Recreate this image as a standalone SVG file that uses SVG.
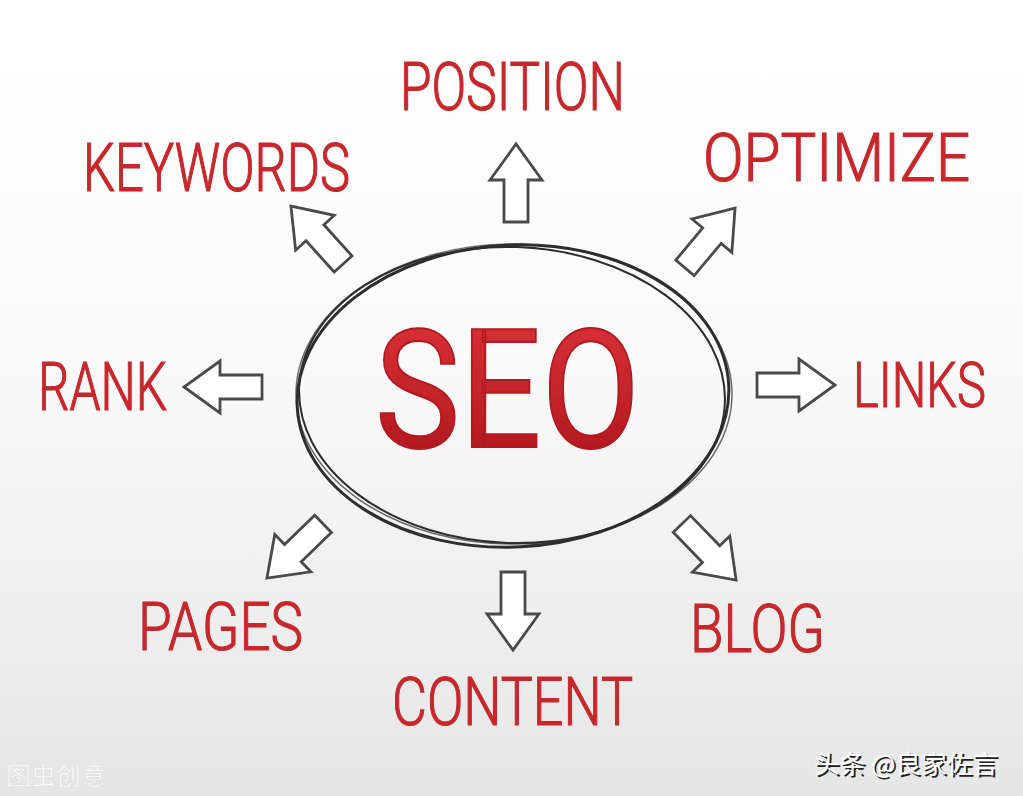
<svg xmlns="http://www.w3.org/2000/svg" width="1023" height="796" viewBox="0 0 1023 796">
<defs>
<linearGradient id="bg" x1="0" y1="0" x2="0" y2="1">
<stop offset="0" stop-color="#ffffff"/>
<stop offset="0.45" stop-color="#fafafa"/>
<stop offset="1" stop-color="#e6e6e6"/>
</linearGradient>
<linearGradient id="seo" x1="0" y1="0" x2="0" y2="1">
<stop offset="0" stop-color="#e0343a"/>
<stop offset="1" stop-color="#a8141a"/>
</linearGradient>
<path id="arr" d="M-39,-12 L3,-12 L3,-26 L39,0 L3,26 L3,12 L-39,12 Z"/>
</defs>
<style>
.lbl{font-family:Roboto,"Liberation Sans","DejaVu Sans",sans-serif;font-weight:300;font-size:67px;fill:#c7282c;stroke:#c7282c;stroke-width:1.2;}
.arrow{fill:#ffffff;stroke:#4a4a4a;stroke-width:2.8;stroke-linejoin:miter;}
.ring{fill:none;stroke:#2e2e2e;}
.wm{font-family:"Noto Sans CJK SC",sans-serif;}
</style>
<rect width="1023" height="796" fill="url(#bg)"/>
<g id="connectors">
<use href="#arr" class="arrow" transform="translate(516,183) rotate(-90)"/>
<use href="#arr" class="arrow" transform="translate(317,235) rotate(-132)"/>
<use href="#arr" class="arrow" transform="translate(710,238) rotate(-50)"/>
<use href="#arr" class="arrow" transform="translate(223,387) rotate(180)"/>
<use href="#arr" class="arrow" transform="translate(796,385)"/>
<use href="#arr" class="arrow" transform="translate(295,551) rotate(136)"/>
<use href="#arr" class="arrow" transform="translate(513,611) rotate(90)"/>
<use href="#arr" class="arrow" transform="translate(709,552) rotate(46)"/>
</g>
<g id="seo-node">
<ellipse class="ring" cx="513" cy="396" rx="216" ry="151" stroke-width="3" transform="rotate(-3 513 396)"/>
<ellipse class="ring" cx="512" cy="395" rx="213" ry="148" stroke-width="2" transform="rotate(2 512 395)"/>
<ellipse class="ring" cx="514" cy="394" rx="218" ry="150" stroke-width="1.5" opacity="0.7"/>
<text x="375" y="447" textLength="265" lengthAdjust="spacingAndGlyphs" style="font-family:Roboto,'Liberation Sans','DejaVu Sans',sans-serif;font-size:165px;fill:url(#seo);stroke:#b01a20;stroke-width:2">SEO</text>
</g>
<g id="position"><text class="lbl" x="400" y="110" textLength="225" lengthAdjust="spacingAndGlyphs">POSITION</text></g>
<g id="keywords"><text class="lbl" x="83" y="191" textLength="267" lengthAdjust="spacingAndGlyphs">KEYWORDS</text></g>
<g id="optimize"><text class="lbl" x="703" y="181" textLength="267" lengthAdjust="spacingAndGlyphs">OPTIMIZE</text></g>
<g id="rank"><text class="lbl" x="38" y="410" textLength="129" lengthAdjust="spacingAndGlyphs">RANK</text></g>
<g id="links"><text class="lbl" x="853" y="407" textLength="133" lengthAdjust="spacingAndGlyphs" style="font-size:63px">LINKS</text></g>
<g id="pages"><text class="lbl" x="138" y="650" textLength="165" lengthAdjust="spacingAndGlyphs">PAGES</text></g>
<g id="content"><text class="lbl" x="392" y="725" textLength="241" lengthAdjust="spacingAndGlyphs">CONTENT</text></g>
<g id="blog"><text class="lbl" x="690" y="652" textLength="135" lengthAdjust="spacingAndGlyphs">BLOG</text></g>
<g id="watermarks">
<text class="wm" x="6" y="785" font-size="25" fill="#ffffff" stroke="#dddddd" stroke-width="0.6">图虫创意</text>
<text class="wm" x="816" y="775" font-size="25" fill="#222222" textLength="184" lengthAdjust="spacingAndGlyphs">头条 @良家佐言</text>
<text class="wm" x="814" y="773" font-size="25" fill="#ffffff" textLength="184" lengthAdjust="spacingAndGlyphs">头条 @良家佐言</text>
</g>
</svg>
